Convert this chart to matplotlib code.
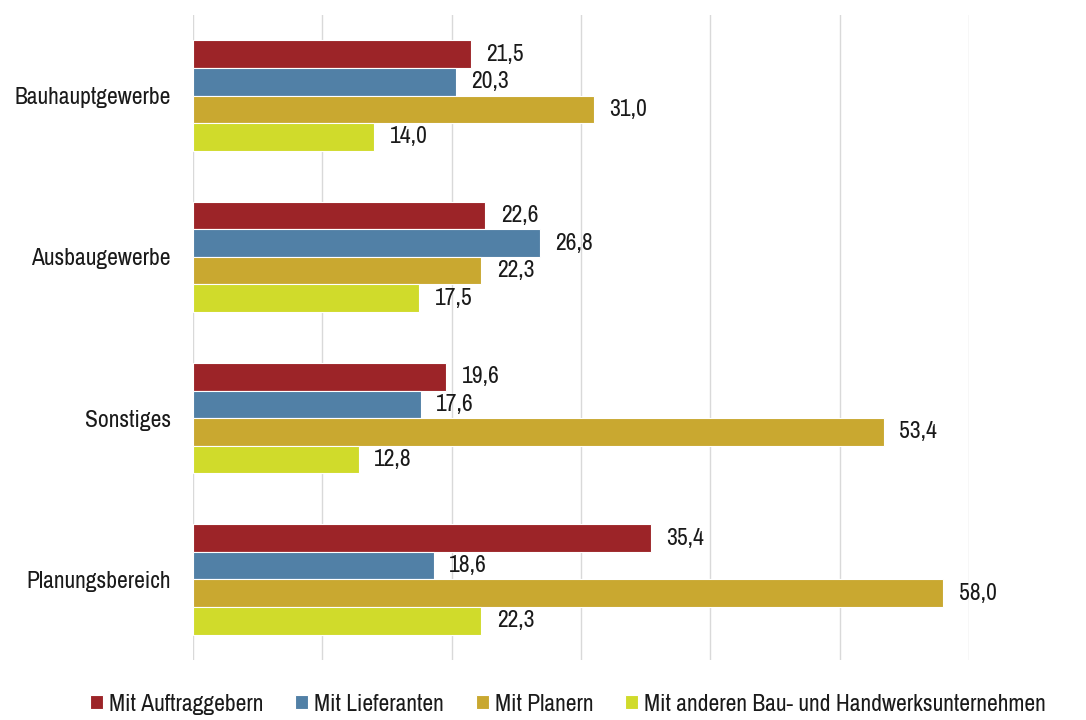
import matplotlib
matplotlib.use("Agg")
import matplotlib.pyplot as plt
import numpy as np

plt.rcParams['font.family'] = ['Archivo Narrow', 'DejaVu Sans']

categories = ["Bauhauptgewerbe", "Ausbaugewerbe", "Sonstiges", "Planungsbereich"]
series_names = ["Mit Auftraggebern", "Mit Lieferanten", "Mit Planern",
                "Mit anderen Bau- und Handwerksunternehmen"]
auftraggeber = [21.5, 22.6, 19.6, 35.4]
lieferanten = [20.3, 26.8, 17.6, 18.6]
planer = [31.0, 22.3, 53.4, 58.0]
andere = [14.0, 17.5, 12.8, 22.3]
colors = ["#9C2428", "#5180A6", "#C9A830", "#D0DB2B"]

values = [auftraggeber, lieferanten, planer, andere]

fig = plt.figure(figsize=(10.86, 7.2), dpi=100)
ax = fig.add_axes([193/1086, 1 - 660/720, (969-193)/1086, (660-15)/720])

h = 0.171
y = np.arange(len(categories))
for k, (vals, name, c) in enumerate(zip(values, series_names, colors)):
    pos = y + (k - 1.5) * h
    ax.barh(pos, vals, height=h, color=c, edgecolor='white', linewidth=0.8,
            label=name, zorder=3)
    for p, v in zip(pos, vals):
        ax.text(v + 1.2, p, f"{v:.1f}".replace('.', ','), va='center', ha='left',
                fontsize=17, color='#1a1a1a', clip_on=False)

ax.set_xlim(0, 60)
ax.set_ylim(len(categories) - 0.5, -0.5)
ax.set_xticks(np.arange(0, 61, 10))
ax.set_xticklabels([])
ax.tick_params(axis='x', length=0)
ax.tick_params(axis='y', length=0, pad=16, labelsize=17, labelcolor='#1a1a1a')
ax.set_yticks(y)
ax.set_yticklabels(categories)
ax.grid(axis='x', color='#d9d9d9', linewidth=1, zorder=0)
for s in ax.spines.values():
    s.set_visible(False)

leg = fig.legend(loc='lower center', bbox_to_anchor=(0.523, -0.022), ncol=4, frameon=False,
                 fontsize=17, handlelength=0.55, handleheight=0.55, handletextpad=0.25,
                 columnspacing=1.35, labelcolor='#1a1a1a')

fig.savefig("out.png", dpi=100)
